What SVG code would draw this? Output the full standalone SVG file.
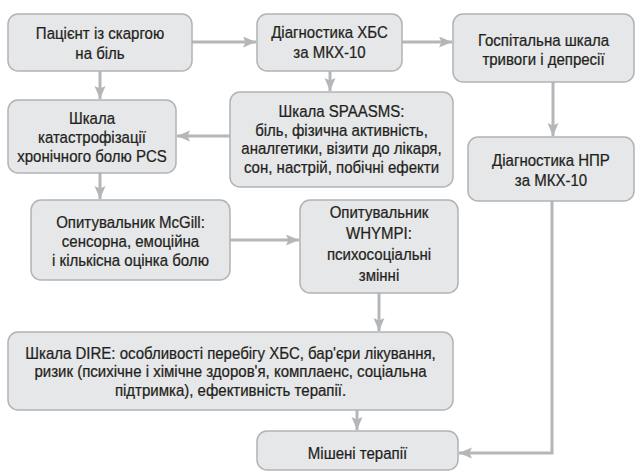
<svg xmlns="http://www.w3.org/2000/svg" width="636" height="472" viewBox="0 0 636 472">
<defs>
<style>
.box{fill:#e6e7e8;stroke:#b1b3b6;stroke-width:1.5}
.t{font-family:"Liberation Sans",Arial,sans-serif;font-size:16.5px;fill:#231f20;stroke:#231f20;stroke-width:0.25;text-anchor:middle}
.c{fill:none;stroke:#b5b6b8;stroke-width:3}
</style>
<marker id="ah" markerUnits="userSpaceOnUse" markerWidth="14" markerHeight="12" refX="13" refY="5.5" orient="auto">
<path d="M0,0 L13,5.5 L0,11 L2.5,5.5 Z" fill="#b5b6b8"/>
</marker>
</defs>
<rect width="636" height="472" fill="#ffffff"/>
<g id="connectors">
<path class="c" d="M192,42 H256" marker-end="url(#ah)"/>
<path class="c" d="M402,42 H452" marker-end="url(#ah)"/>
<path class="c" d="M100,71 V99" marker-end="url(#ah)"/>
<path class="c" d="M330,71 V91" marker-end="url(#ah)"/>
<path class="c" d="M230,136 H177" marker-end="url(#ah)"/>
<path class="c" d="M553,82 V136" marker-end="url(#ah)"/>
<path class="c" d="M100,173 V199" marker-end="url(#ah)"/>
<path class="c" d="M230,240 H299" marker-end="url(#ah)"/>
<path class="c" d="M379,293 V331" marker-end="url(#ah)"/>
<path class="c" d="M357,410 V430" marker-end="url(#ah)"/>
<path class="c" d="M552,201 V453 H459" marker-end="url(#ah)"/>
</g>
<g id="n1"><rect class="box" x="8" y="14" width="184" height="57" rx="10"/>
<g transform="translate(100 0) scale(0.91 1)"><text class="t" x="0" y="39.5">Пацієнт із скаргою</text><text class="t" x="0" y="59.5">на біль</text></g></g>
<g id="n2"><rect class="box" x="257" y="14" width="145" height="57" rx="10"/>
<g transform="translate(329.5 0) scale(0.91 1)"><text class="t" x="0" y="38.5">Діагностика ХБС</text><text class="t" x="0" y="58.5">за МКХ-10</text></g></g>
<g id="n3"><rect class="box" x="453" y="14" width="181" height="68" rx="10"/>
<g transform="translate(543.5 0) scale(0.91 1)"><text class="t" x="0" y="46.5">Госпітальна шкала</text><text class="t" x="0" y="65.5">тривоги і депресії</text></g></g>
<g id="n4"><rect class="box" x="8" y="100" width="168" height="73" rx="10"/>
<g transform="translate(92 0) scale(0.91 1)"><text class="t" x="0" y="124">Шкала</text><text class="t" x="0" y="143">катастрофізації</text><text class="t" x="0" y="162">хронічного болю PCS</text></g></g>
<g id="n5"><rect class="box" x="230" y="92" width="223" height="95" rx="10"/>
<g transform="translate(341.5 0) scale(0.91 1)"><text class="t" x="0" y="117.5">Шкала SPAASMS:</text><text class="t" x="0" y="136">біль, фізична активність,</text><text class="t" x="0" y="154.5">аналгетики, візити до лікаря,</text><text class="t" x="0" y="173">сон, настрій, побічні ефекти</text></g></g>
<g id="n6"><rect class="box" x="468" y="137" width="166" height="64" rx="10"/>
<g transform="translate(551 0) scale(0.91 1)"><text class="t" x="0" y="166.5">Діагностика НПР</text><text class="t" x="0" y="186.5">за МКХ-10</text></g></g>
<g id="n7"><rect class="box" x="31" y="200" width="199" height="80" rx="10"/>
<g transform="translate(130.5 0) scale(0.91 1)"><text class="t" x="0" y="228.5">Опитувальник McGill:</text><text class="t" x="0" y="247.5">сенсорна, емоційна</text><text class="t" x="0" y="266.5">і кількісна оцінка болю</text></g></g>
<g id="n8"><rect class="box" x="300" y="200" width="158" height="93" rx="10"/>
<g transform="translate(379 0) scale(0.91 1)"><text class="t" x="0" y="218.5">Опитувальник</text><text class="t" x="0" y="239.5">WHYMPI:</text><text class="t" x="0" y="260.5">психосоціальні</text><text class="t" x="0" y="281.5">змінні</text></g></g>
<g id="n9"><rect class="box" x="8" y="332" width="445" height="78" rx="10"/>
<g transform="translate(230.5 0) scale(0.91 1)"><text class="t" x="0" y="359">Шкала DIRE: особливості перебігу ХБС, бар'єри лікування,</text><text class="t" x="0" y="377.5">ризик (психічне і хімічне здоров'я, комплаенс, соціальна</text><text class="t" x="0" y="396">підтримка), ефективність терапії.</text></g></g>
<g id="n10"><rect class="box" x="257" y="431" width="201" height="39" rx="10"/>
<g transform="translate(357.5 0) scale(0.91 1)"><text class="t" x="0" y="459.5">Мішені терапії</text></g></g>
</svg>
